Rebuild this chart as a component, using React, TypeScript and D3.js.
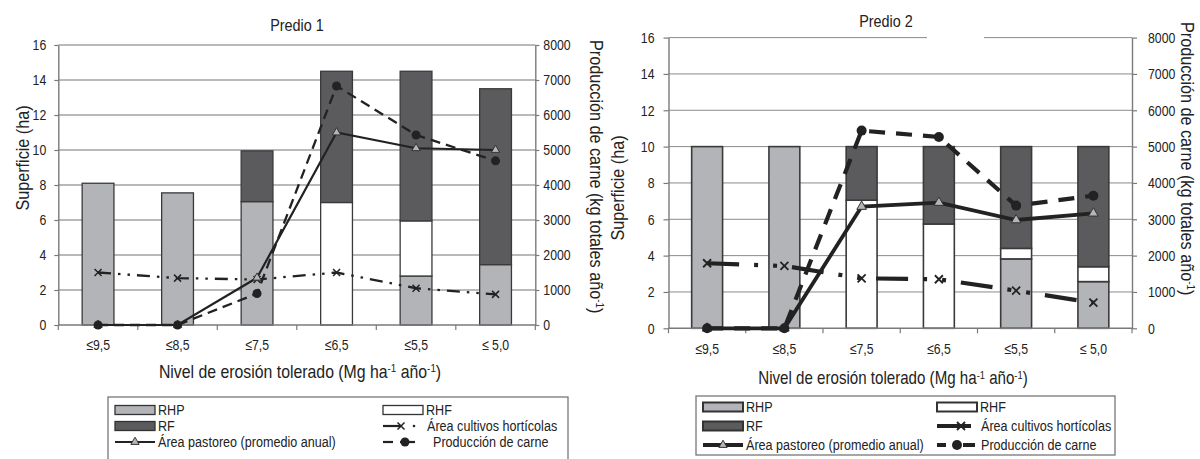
import React, { useEffect, useRef } from 'react';
import * as d3 from 'd3';

const categories = ['≤9,5', '≤8,5', '≤7,5', '≤6,5', '≤5,5', '≤ 5,0'];
const haTicks = [0, 2, 4, 6, 8, 10, 12, 14, 16];
const kgTicks = [0, 1000, 2000, 3000, 4000, 5000, 6000, 7000, 8000];

// Predio 1 (ha, kg)
const rhp1 = [8.1, 7.55, 7.05, 0, 2.8, 3.45];
const rhf1 = [0, 0, 0, 7.0, 3.15, 0];
const rf1 = [0, 0, 2.9, 7.5, 8.55, 10.05];
const horti1 = [3.0, 2.68, 2.6, 3.0, 2.1, 1.75];
const pasto1 = [0, 0, 2.7, 11.0, 10.1, 10.0];
const meat1 = [0, 0, 900, 6830, 5430, 4690];

// Predio 2 (ha, kg)
const rhp2 = [10, 10, 0, 0, 3.82, 2.57];
const rhf2 = [0, 0, 7.05, 5.74, 0.58, 0.82];
const rf2 = [0, 0, 2.95, 4.26, 5.6, 6.61];
const horti2 = [3.58, 3.43, 2.75, 2.7, 2.07, 1.41];
const pasto2 = [0, 0, 6.7, 6.92, 5.96, 6.33];
const meat2 = [0, 0, 5440, 5266, 3376, 3650];

const FONT = "'Liberation Sans', Arial, sans-serif";
const C_RHP = '#b3b4b7';
const C_RF = '#5b5b5d';
const C_RHF = '#ffffff';
const INK = '#222';
const NARROW = 0.84;

type Part = [string, boolean];
type G = d3.Selection<SVGGElement, unknown, null, undefined>;

const xTitle: Part[] = [
  ['Nivel de erosión tolerado (Mg ha', false], ['-1', true], [' año', false], ['-1', true], [')', false],
];
const y2Title: Part[] = [['Producción de carne (kg totales año', false], ['-1', true], [')', false]];

interface Panel {
  title: string;
  rhp: number[]; rhf: number[]; rf: number[];
  horti: number[]; pasto: number[]; meat: number[];
  x0: number; x1: number; y0: number; yTop: number;
  titleX: number; titleY: number;
  catY: number; xTitleX: number; xTitleY: number;
  yTitleX: number; yTitleY: number; y2TitleX: number; y2TitleY: number;
  leftTick: number; leftPad: number; rightTick: number; rightPad: number;
  gap: [number, number] | null;
  heavy: boolean;
  legend: { x: number; y: number; w: number; h: number; c1: number; c2: number; rows: number[] };
}

const panels: Panel[] = [
  {
    title: 'Predio 1', rhp: rhp1, rhf: rhf1, rf: rf1, horti: horti1, pasto: pasto1, meat: meat1,
    x0: 58.3, x1: 535.3, y0: 325, yTop: 45,
    titleX: 297, titleY: 31,
    catY: 350, xTitleX: 300, xTitleY: 378,
    yTitleX: 29, yTitleY: 158, y2TitleX: 590, y2TitleY: 40,
    leftTick: 4, leftPad: 8, rightTick: 4, rightPad: 4,
    gap: null, heavy: false,
    legend: { x: 108, y: 397, w: 460, h: 75, c1: 115, c2: 383, rows: [410, 426, 442] },
  },
  {
    title: 'Predio 2', rhp: rhp2, rhf: rhf2, rf: rf2, horti: horti2, pasto: pasto2, meat: meat2,
    x0: 668.5, x1: 1132, y0: 328.3, yTop: 37.6,
    titleX: 886, titleY: 27,
    catY: 354, xTitleX: 893, xTitleY: 384,
    yTitleX: 624, yTitleY: 188, y2TitleX: 1181, y2TitleY: 22,
    leftTick: 5, leftPad: 9, rightTick: 5, rightPad: 11,
    gap: [927, 984], heavy: true,
    legend: { x: 696, y: 396, w: 419, h: 59, c1: 703, c2: 937, rows: [407, 426, 445] },
  },
];

function txt(g: G, x: number, y: number, size: number, anchor: string, rot = 0, sx = NARROW) {
  return g.append('text')
    .attr('transform', `translate(${x},${y}) rotate(${rot}) scale(${sx},1)`)
    .attr('text-anchor', anchor)
    .attr('font-family', FONT)
    .attr('font-size', size)
    .attr('fill', INK);
}

function rich(sel: d3.Selection<SVGTextElement, unknown, null, undefined>, parts: Part[], size: number) {
  parts.forEach(([t, sup]) => {
    const ts = sel.append('tspan').text(t);
    if (sup) ts.attr('font-size', size * 0.62).attr('baseline-shift', 'super');
  });
}

function crossPath(s: number) {
  return `M${-s},${-s}L${s},${s}M${-s},${s}L${s},${-s}`;
}

function drawPanel(svg: d3.Selection<SVGSVGElement, unknown, null, undefined>, p: Panel) {
  const g = svg.append('g');
  const x = d3.scaleBand<string>().domain(categories).range([p.x0, p.x1]).paddingInner(0.6).paddingOuter(0.3);
  const y = d3.scaleLinear().domain([0, 16]).range([p.y0, p.yTop]);
  const y2 = d3.scaleLinear().domain([0, 8000]).range([p.y0, p.yTop]);
  const step = x.step();
  const cx = (i: number) => (x(categories[i]) as number) + x.bandwidth() / 2;
  const gridC = p.heavy ? '#8a8a8a' : '#a2a2a2';

  // gridlines
  haTicks.filter(t => t > 0).forEach(t => {
    const segs: [number, number][] = t === 16 && p.gap ? [[p.x0, p.gap[0]], [p.gap[1], p.x1]] : [[p.x0, p.x1]];
    segs.forEach(([a, b]) => {
      g.append('line').attr('x1', a).attr('x2', b).attr('y1', y(t)).attr('y2', y(t))
        .attr('stroke', gridC).attr('stroke-width', p.heavy ? 1 : 1.4);
    });
  });

  // stacked bars: RHP, RHF, RF
  const fills = [C_RHP, C_RHF, C_RF];
  categories.forEach((c, i) => {
    let base = 0;
    [p.rhp[i], p.rhf[i], p.rf[i]].forEach((v, k) => {
      if (v <= 0) return;
      g.append('rect')
        .attr('x', x(c) as number)
        .attr('y', y(base + v))
        .attr('width', x.bandwidth())
        .attr('height', y(base) - y(base + v))
        .attr('fill', fills[k])
        .attr('stroke', '#3a3a3a')
        .attr('stroke-width', p.heavy ? 1.6 : 1.3);
      base += v;
    });
  });

  // axes
  const axC = '#7a7a7a';
  const left = g.append('g').attr('transform', `translate(${p.x0},0)`)
    .call(d3.axisLeft(y).tickValues(haTicks).tickSize(p.leftTick).tickPadding(p.leftPad).tickSizeOuter(0));
  const right = g.append('g').attr('transform', `translate(${p.x1},0)`)
    .call(d3.axisRight(y2).tickValues(kgTicks).tickSize(p.rightTick).tickPadding(p.rightPad).tickSizeOuter(0).tickFormat(d3.format('d')));
  [left, right].forEach(a => {
    a.select('.domain').attr('stroke', axC).attr('stroke-width', 1.4);
    a.selectAll('.tick line').attr('stroke', axC).attr('stroke-width', 1.2);
    a.selectAll<SVGTextElement, unknown>('.tick text')
      .attr('font-family', FONT).attr('font-size', 15).attr('fill', INK)
      .each(function () {
        const tx = +(this.getAttribute('x') || 0);
        this.setAttribute('x', '0');
        this.setAttribute('transform', `translate(${tx},0) scale(0.82,1)`);
      });
  });

  // x axis line and boundary ticks
  g.append('line').attr('x1', p.x0).attr('x2', p.x1).attr('y1', p.y0).attr('y2', p.y0)
    .attr('stroke', axC).attr('stroke-width', 1.4);
  d3.range(categories.length + 1).forEach(i => {
    const bx = p.x0 + i * step;
    g.append('line').attr('x1', bx).attr('x2', bx).attr('y1', p.y0).attr('y2', p.y0 + 5)
      .attr('stroke', axC).attr('stroke-width', 1.2);
  });
  categories.forEach((c, i) => {
    txt(g, cx(i), p.catY, 15, 'middle', 0, 0.82).text(c);
  });

  // titles
  txt(g, p.titleX, p.titleY, 16, 'middle', 0, 0.9).text(p.title);
  rich(txt(g, p.xTitleX, p.xTitleY, 18, 'middle', 0, p.heavy ? 0.84 : 0.88), xTitle, 18);
  txt(g, p.yTitleX, p.yTitleY, 18, 'middle', -90, 0.9).text('Superficie (ha)');
  rich(txt(g, p.y2TitleX, p.y2TitleY, 18, 'start', 90, 0.9), y2Title, 18);

  // lines
  const w = p.heavy ? 4.2 : 2.3;
  const hortiDash = p.heavy ? '32,15,4,15,4,15' : '13,7,2.5,7,2.5,7';
  const meatDash = p.heavy ? '16,11' : '10,6';
  const lineHa = d3.line<number>().x((d, i) => cx(i)).y(d => y(d));
  const lineKg = d3.line<number>().x((d, i) => cx(i)).y(d => y2(d));

  g.append('path').datum(p.horti).attr('d', lineHa).attr('fill', 'none')
    .attr('stroke', INK).attr('stroke-width', w).attr('stroke-dasharray', hortiDash);
  g.append('path').datum(p.pasto).attr('d', lineHa).attr('fill', 'none')
    .attr('stroke', INK).attr('stroke-width', p.heavy ? 3.8 : 2.2);
  g.append('path').datum(p.meat).attr('d', lineKg).attr('fill', 'none')
    .attr('stroke', INK).attr('stroke-width', w).attr('stroke-dasharray', meatDash);

  // markers
  const tri = d3.symbol().type(d3.symbolTriangle).size(p.heavy ? 40 : 30);
  p.horti.forEach((v, i) => {
    g.append('path').attr('transform', `translate(${cx(i)},${y(v)})`).attr('d', crossPath(p.heavy ? 4 : 3.5))
      .attr('stroke', INK).attr('stroke-width', p.heavy ? 1.8 : 1.5).attr('fill', 'none');
  });
  p.pasto.forEach((v, i) => {
    g.append('path').attr('transform', `translate(${cx(i)},${y(v)})`).attr('d', tri() as string)
      .attr('fill', '#b5b5b5').attr('stroke', '#333').attr('stroke-width', 1);
  });
  p.meat.forEach((v, i) => {
    g.append('circle').attr('cx', cx(i)).attr('cy', y2(v)).attr('r', p.heavy ? 5 : 4.5).attr('fill', INK);
  });

  drawLegend(svg, p);
}

function drawLegend(svg: d3.Selection<SVGSVGElement, unknown, null, undefined>, p: Panel) {
  const L = p.legend;
  const g = svg.append('g');
  const sw = 40;
  const fs = 15;
  const lw = p.heavy ? 4 : 2.2;
  g.append('rect').attr('x', L.x).attr('y', L.y).attr('width', L.w).attr('height', L.h)
    .attr('fill', '#fff').attr('stroke', '#777').attr('stroke-width', 1.3);
  const label = (tx: number, ty: number, s: string) => txt(g, tx, ty + 5, fs, 'start').text(s);
  const swatch = (sx: number, sy: number, fill: string) =>
    g.append('rect').attr('x', sx).attr('y', sy - 4.5).attr('width', sw).attr('height', 9)
      .attr('fill', fill).attr('stroke', '#333').attr('stroke-width', p.heavy ? 2 : 1.3);

  swatch(L.c1, L.rows[0], C_RHP); label(L.c1 + sw + 3, L.rows[0], 'RHP');
  swatch(L.c1, L.rows[1], C_RF); label(L.c1 + sw + 3, L.rows[1], 'RF');
  g.append('line').attr('x1', L.c1).attr('x2', L.c1 + sw).attr('y1', L.rows[2]).attr('y2', L.rows[2])
    .attr('stroke', INK).attr('stroke-width', lw);
  g.append('path').attr('transform', `translate(${L.c1 + sw / 2},${L.rows[2]})`)
    .attr('d', d3.symbol().type(d3.symbolTriangle).size(30)() as string)
    .attr('fill', '#b5b5b5').attr('stroke', '#333').attr('stroke-width', 1);
  label(L.c1 + sw + 3, L.rows[2], 'Área pastoreo (promedio anual)');

  swatch(L.c2, L.rows[0], C_RHF); label(L.c2 + sw + 3, L.rows[0], 'RHF');
  const r1 = L.rows[1];
  if (p.heavy) {
    g.append('line').attr('x1', L.c2).attr('x2', L.c2 + 34).attr('y1', r1).attr('y2', r1)
      .attr('stroke', INK).attr('stroke-width', lw);
    g.append('path').attr('transform', `translate(${L.c2 + 24},${r1})`).attr('d', crossPath(4))
      .attr('stroke', INK).attr('stroke-width', 1.8);
  } else {
    g.append('line').attr('x1', L.c2).attr('x2', L.c2 + 18).attr('y1', r1).attr('y2', r1)
      .attr('stroke', INK).attr('stroke-width', lw);
    g.append('path').attr('transform', `translate(${L.c2 + 18},${r1})`).attr('d', crossPath(3.5))
      .attr('stroke', INK).attr('stroke-width', 1.5);
    g.append('circle').attr('cx', L.c2 + 31).attr('cy', r1).attr('r', 1.3).attr('fill', INK);
  }
  label(L.c2 + sw + 4, r1, 'Área cultivos hortícolas');
  const r2 = L.rows[2];
  g.append('line').attr('x1', L.c2).attr('x2', L.c2 + (p.heavy ? 9 : 10)).attr('y1', r2).attr('y2', r2)
    .attr('stroke', INK).attr('stroke-width', lw);
  g.append('line').attr('x1', L.c2 + (p.heavy ? 26 : 17)).attr('x2', L.c2 + (p.heavy ? 38 : 32)).attr('y1', r2).attr('y2', r2)
    .attr('stroke', INK).attr('stroke-width', lw);
  g.append('circle').attr('cx', L.c2 + (p.heavy ? 20 : 22)).attr('cy', r2).attr('r', p.heavy ? 5 : 4.5).attr('fill', INK);
  label(L.c2 + (p.heavy ? sw + 4 : sw + 10), r2, 'Producción de carne');
}

const App: React.FC = () => {
  const svgRef = useRef<SVGSVGElement>(null);

  useEffect(() => {
    if (!svgRef.current) return;
    const svg = d3.select(svgRef.current);
    svg.selectAll('*').remove();
    panels.forEach(p => drawPanel(svg, p));
  }, []);

  return (
    <div style={{ position: 'absolute', left: 0, top: 0 }}>
      <svg ref={svgRef} width={1200} height={459} style={{ display: 'block', background: '#fff' }} />
    </div>
  );
};

export default App;
